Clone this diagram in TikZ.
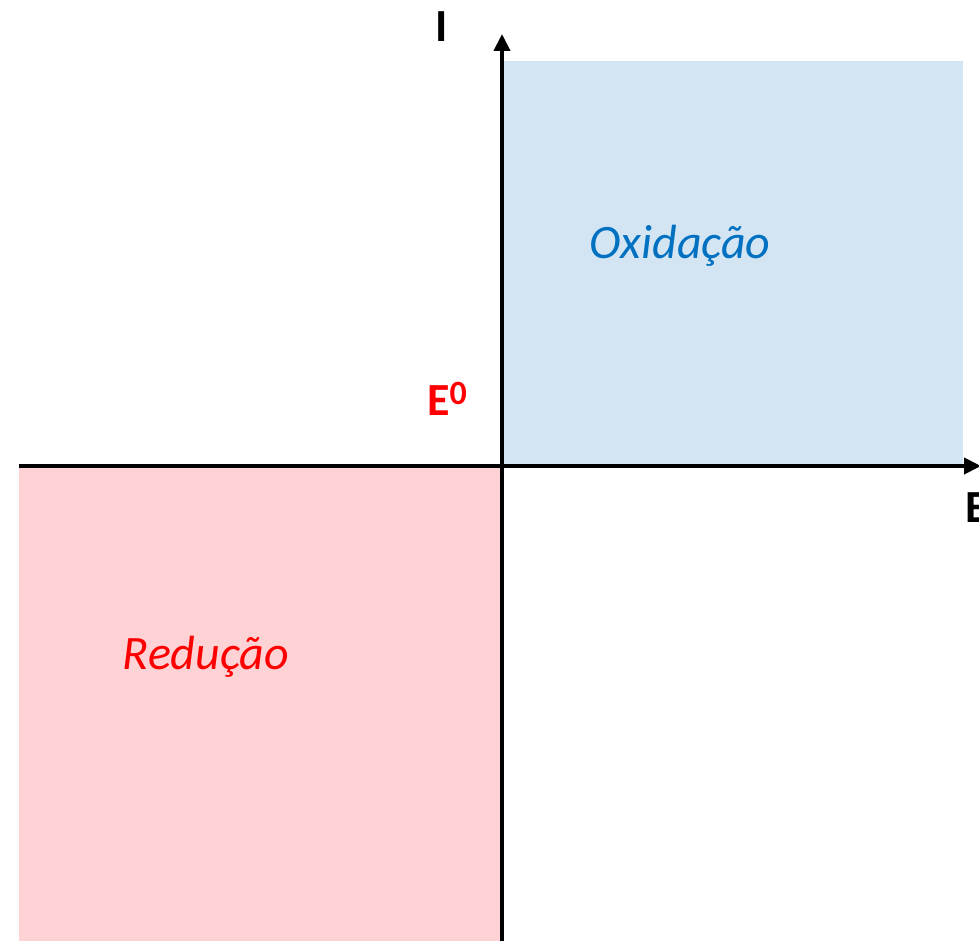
\documentclass[tikz,border=0pt]{standalone}
\usepackage{fontspec}
\setmainfont{Carlito}
\usetikzlibrary{arrows.meta}
\definecolor{oxblue}{HTML}{D3E5F3}
\definecolor{redpink}{HTML}{FFD3D5}
\definecolor{txtblue}{HTML}{0070C0}
\tikzset{
  axis/.style={line width=4pt,-{Triangle[width=16pt,length=17pt]}},
  axlabel/.style={font=\fontsize{46}{50}\selectfont\bfseries,inner sep=0pt},
  region/.style={font=\fontsize{48}{52}\selectfont\itshape,inner sep=0pt}
}
\begin{document}
\begin{tikzpicture}[x=1pt,y=-1pt]
\useasboundingbox (0,0) rectangle (979,941);
\fill[oxblue] (502,61) rectangle (963,466);
\fill[redpink] (19,466) rectangle (502,941);
\coordinate (xs) at (19,466);
\coordinate (xe) at (981,466);
\coordinate (ys) at (502,941);
\coordinate (ye) at (502,34);
\draw[axis] (xs) -- (xe);
\draw[axis] (ys) -- (ye);
\node[axlabel,anchor=base] (I) at (442,42) {I};
\node[axlabel,anchor=base west] (E) at (965,522) {E};
\node[axlabel,anchor=base,text=red] (E0) at (447,415) {E\raisebox{0.45ex}{\fontsize{34}{36}\selectfont 0}};
\node[region,text=txtblue] (ox) at (680,246) {Oxidação};
\node[region,text=red] (red) at (206,657) {Redução};
\end{tikzpicture}
\end{document}
